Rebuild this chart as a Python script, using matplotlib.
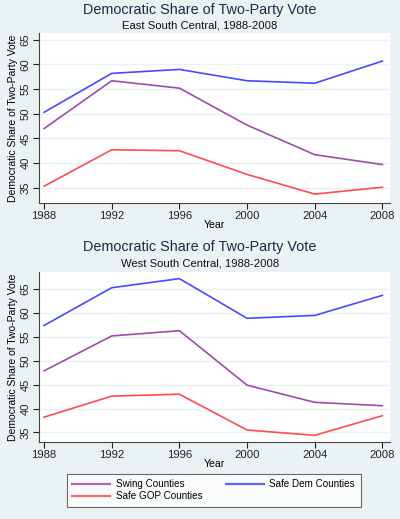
import matplotlib
matplotlib.use("Agg")
import matplotlib.pyplot as plt

years = [1988, 1992, 1996, 2000, 2004, 2008]

# East South Central
east_swing = [47.0, 56.7, 55.2, 47.7, 41.7, 39.7]
east_dem = [50.3, 58.2, 59.0, 56.7, 56.2, 60.7]
east_gop = [35.3, 42.7, 42.5, 37.7, 33.7, 35.1]

# West South Central
west_swing = [47.9, 55.2, 56.3, 44.9, 41.3, 40.6]
west_dem = [57.4, 65.3, 67.2, 58.9, 59.5, 63.7]
west_gop = [38.2, 42.6, 43.0, 35.5, 34.4, 38.5]

yticks = [35, 40, 45, 50, 55, 60, 65]
bg = '#eaf2f3'
c_swing = '#a04aac'
c_dem = '#4a4aff'
c_gop = '#ff4c4c'

plt.rcParams['font.family'] = ['Liberation Sans', 'DejaVu Sans']
fig = plt.figure(figsize=(4, 5.19), dpi=100, facecolor=bg)
H = 519.0

panels = [
    ("East South Central, 1988-2008", east_swing, east_dem, east_gop,
     [0.0975, 0.6089, 0.8775, 0.3276], (31.9, 66.4), 10, 26),
    ("West South Central, 1988-2008", west_swing, west_dem, west_gop,
     [0.0975, 0.1484, 0.8775, 0.3276], (33.0, 68.6), 247, 263),
]

for subtitle, swing, dem, gop, rect, ylim, ty, sy in panels:
    ax = fig.add_axes(rect)
    ax.set_facecolor('white')
    l1, = ax.plot(years, swing, color=c_swing, lw=1.2, label='Swing Counties')
    l2, = ax.plot(years, dem, color=c_dem, lw=1.2, label='Safe Dem Counties')
    l3, = ax.plot(years, gop, color=c_gop, lw=1.2, label='Safe GOP Counties')
    ax.set_xlim(1987.7, 2008.45)
    ax.set_ylim(*ylim)
    ax.set_xticks(years)
    ax.set_yticks(yticks)
    ax.set_yticklabels([str(t) for t in yticks], rotation=90, va='center')
    ax.grid(axis='y', color=bg, lw=1)
    ax.set_axisbelow(True)
    for s in ['top', 'right']:
        ax.spines[s].set_visible(False)
    for s in ['left', 'bottom']:
        ax.spines[s].set_color('#444444')
        ax.spines[s].set_linewidth(0.8)
    ax.tick_params(labelsize=8.1, colors='#222222', length=4, width=0.8, pad=2)
    ax.set_xlabel('Year', fontsize=7.6, labelpad=-1)
    ax.set_ylabel('Democratic Share of Two-Party Vote', fontsize=7.5, labelpad=2)
    fig.text(0.5, 1 - ty / H, 'Democratic Share of Two-Party Vote',
             ha='center', va='center', fontsize=10.4, color='#1e2848')
    fig.text(0.5, 1 - sy / H, subtitle, ha='center', va='center',
             fontsize=8.1, color='#111111')

leg = fig.legend(handles=[l1, l3, l2], loc='upper left', ncol=2,
                 bbox_to_anchor=(67 / 400, 1 - 474 / H),
                 fontsize=7.1, frameon=True, fancybox=False, edgecolor='#444444',
                 handlelength=3.8, handletextpad=0.6, columnspacing=2.4,
                 borderpad=0.55, labelspacing=0.2, borderaxespad=0)
leg.get_frame().set_linewidth(0.8)
for line in leg.get_lines():
    line.set_linewidth(1.6)
    line.set_alpha(0.85)

fig.savefig('out.png', dpi=100, facecolor=bg)
